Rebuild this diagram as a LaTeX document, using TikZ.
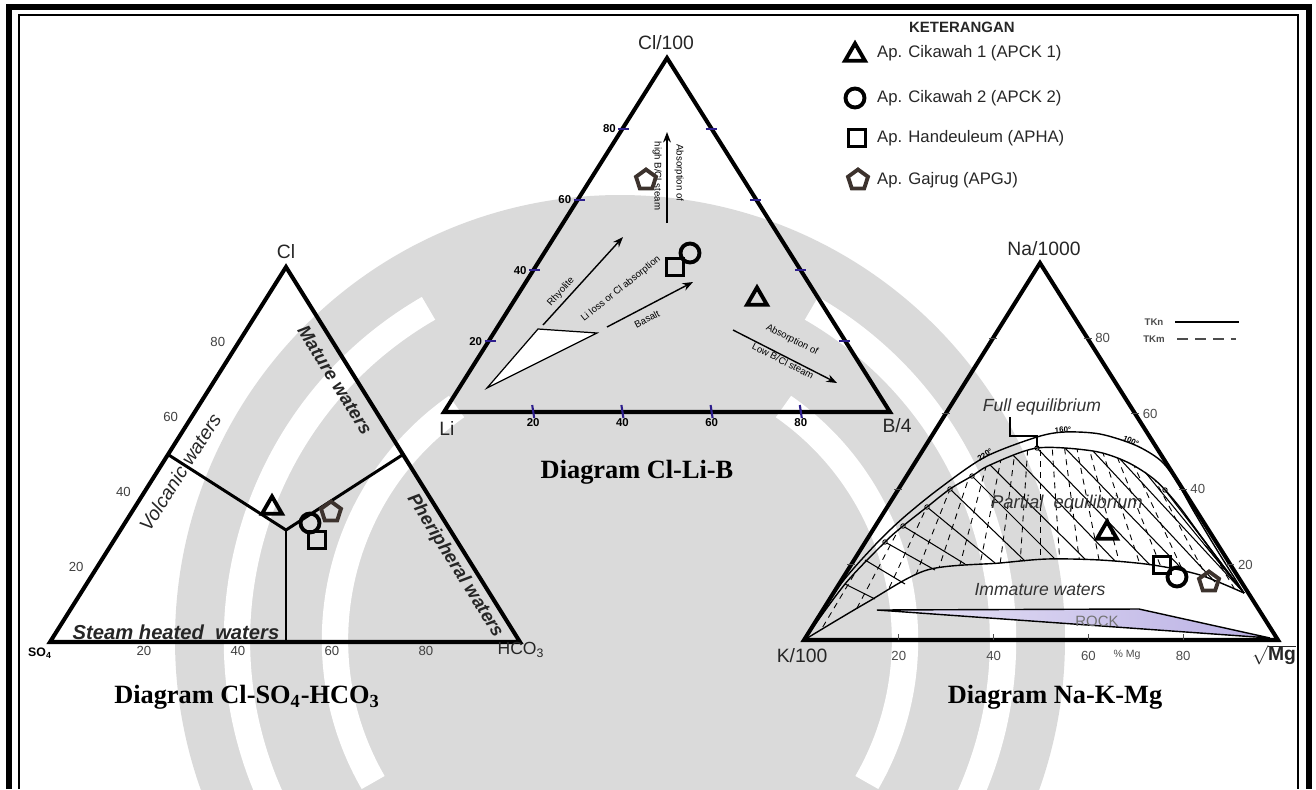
\documentclass[tikz,border=0pt]{standalone}
\usepackage{fontspec}
\setmainfont{Liberation Sans}
\newfontfamily\capfont{Liberation Serif}
\usetikzlibrary{arrows.meta,calc,positioning,shapes.geometric}

\definecolor{wmgray}{RGB}{218,218,218}
\definecolor{tickblue}{RGB}{45,30,140}
\definecolor{rockfill}{RGB}{186,176,228}
\definecolor{markbrown}{RGB}{60,50,45}

\tikzset{
  side/.style={line width=2.3pt, line join=miter},
  zone/.style={line width=1.7pt},
  caption/.style={font=\capfont\bfseries\fontsize{15}{17}\selectfont},
  corner/.style={font=\fontsize{11}{12}\selectfont, text=black!85},
  ax1/.style={font=\fontsize{7.5}{8}\selectfont, text=black!75},
  ax2/.style={font=\bfseries\fontsize{6.5}{7}\selectfont},
  ax3/.style={font=\fontsize{7.5}{8}\selectfont, text=black!70},
  zonelbl/.style={font=\bfseries\itshape\fontsize{10.5}{12}\selectfont, text=black!85},
  eqlbl/.style={font=\itshape\fontsize{10}{12}\selectfont, text=black!80},
  tinylbl/.style={font=\fontsize{5.5}{6}\selectfont, inner sep=0.5pt},
  legendtxt/.style={anchor=west, font=\fontsize{9.5}{11}\selectfont, text=black!85},
  bluetick/.style={tickblue, line width=1.2pt},
  gtick/.style={black!70, line width=0.6pt},
  trend/.style={->, line width=0.8pt},
  eqline/.style={line width=0.8pt},
  tkn/.style={line width=0.6pt},
  tkm/.style={line width=0.5pt, dash pattern=on 0.12cm off 0.1cm},
  mk/.style={draw=black, line width=2.2pt, inner sep=0pt},
  mtri/.style={mk, regular polygon, regular polygon sides=3, minimum size=0.46cm},
  mcirc/.style={mk, circle, minimum size=0.38cm},
  msq/.style={mk, rectangle, minimum size=0.34cm},
  mpent/.style={mk, draw=markbrown, regular polygon, regular polygon sides=5, minimum size=0.42cm}
}

\begin{document}
\begin{tikzpicture}[x=0.02cm, y=-0.02cm, >={Stealth[length=6pt,width=4.5pt]}]
\useasboundingbox (0,0) rectangle (1316,789);

% watermark
\begin{scope}
  \clip (20,16) rectangle (1297,789);
  \fill[wmgray] (620,640) circle (445);
  \draw[white, line width=15pt] (620,640) ++(150:383) arc (150:240:383);
  \draw[white, line width=15pt] (620,640) ++(30:383) arc (30:-60:383);
  \draw[white, line width=15pt] (620,640) ++(150:285) arc (150:235:285);
  \draw[white, line width=15pt] (620,640) ++(30:285) arc (30:-55:285);
\end{scope}

% frame
\draw[line width=3.2pt] (9,789) -- (9,7) -- (1309,7) -- (1309,789);
\draw[line width=1pt] (19,789) -- (19,15) -- (1298,15) -- (1298,789);

% Cl-SO4-HCO3
\coordinate (clA) at (286,267);
\coordinate (soA) at (50,642);
\coordinate (hcA) at (520,642);
\draw[side] (clA) -- (soA) -- (hcA) -- cycle;
\coordinate (volJ) at ($(soA)!0.5!(clA)$);
\coordinate (perJ) at ($(hcA)!0.5!(clA)$);
\coordinate (midJ) at (286,530);
\coordinate (botJ) at (286,642);
\draw[zone] (volJ) -- (midJ) -- (perJ);
\draw[zone] (midJ) -- (botJ);
\node[corner] (lblCl) at (286,252) {Cl};
\node[font=\bfseries\fontsize{7}{8}\selectfont] (lblSO) at (40,653) {SO\textsubscript{4}};
\node[corner, font=\fontsize{10}{11}\selectfont] (lblHC) at (521,650) {HCO\textsubscript{3}};
\foreach \v in {20,40,60,80} {
  \node[ax1] (clT\v) at ($(soA)!\v/100!(clA)+(-21,0)$) {\v};
  \node[ax1] (soT\v) at ($(soA)!\v/100!(hcA)+(0,9)$) {\v};
}
\node[zonelbl, font=\itshape\fontsize{11}{12}\selectfont, rotate=57.5] (volc) at (180,472) {Volcanic waters};
\node[zonelbl, rotate=-58] (matur) at (335,380) {Mature waters};
\node[zonelbl, rotate=-58] (perip) at (455,566) {Pheripheral waters};
\node[zonelbl, font=\bfseries\itshape\fontsize{11.5}{12}\selectfont] (steam) at (176,632) {Steam heated\ \ waters};
\node[mtri] (t1Apck1) at (272,508) {};
\node[mcirc] (t1Apck2) at (310,523) {};
\node[mpent] (t1Apgj) at (331,512) {};
\node[msq] (t1Apha) at (317,540) {};
\node[caption] (capA) at (247,697) {Diagram Cl-SO\textsubscript{4}-HCO\textsubscript{3}};

% Cl-Li-B
\coordinate (clB) at (667,58);
\coordinate (liB) at (444,412);
\coordinate (bB) at (890,412);
\draw[side] (clB) -- (liB) -- (bB) -- cycle;
\foreach \v in {20,40,60,80} {
  \draw[bluetick] ($(liB)!\v/100!(clB)+(-4,0)$) -- ++(11,0);
  \draw[bluetick] ($(bB)!\v/100!(clB)+(-6,0)$) -- ++(11,0);
  \draw[bluetick] ($(liB)!\v/100!(bB)+(-1,-7)$) -- ++(2,13);
  \node[ax2] (liT\v) at ($(liB)!\v/100!(clB)+(-13,0)$) {\v};
  \node[ax2] (bT\v) at ($(liB)!\v/100!(bB)+(0,11)$) {\v};
}
\node[corner] (lblCl100) at (666,43) {Cl/100};
\node[corner] (lblLi) at (447,428) {Li};
\node[corner] (lblB4) at (897,426) {B/4};
\draw[line width=0.7pt, fill=white] (487,388) -- (538,329) -- (597,333) -- cycle;
\coordinate (rhyS) at (543,325);
\coordinate (rhyE) at (623,237);
\draw[trend] (rhyS) -- (rhyE);
\node[tinylbl, rotate=47.7] (rhyL) at (561,292) {Rhyolite};
\node[tinylbl, rotate=38.7] (liLoss) at (621,289) {Li loss or Cl absorption};
\coordinate (basS) at (607,327);
\coordinate (basE) at (693,282);
\draw[trend] (basS) -- (basE);
\node[tinylbl, rotate=27.6] (basL) at (647,319) {Basalt};
\coordinate (lowS) at (733,330);
\coordinate (lowE) at (837,383);
\draw[trend] (lowS) -- (lowE);
\node[tinylbl, rotate=-27] (lowL1) at (792,340) {Absorption of};
\node[tinylbl, rotate=-27] (lowL2) at (783,361) {Low B/Cl steam};
\coordinate (hiS) at (667,223);
\coordinate (hiE) at (667,132);
\draw[trend] (hiS) -- (hiE);
\node[tinylbl, rotate=-90] (hiL1) at (679,173) {Absorption of};
\node[tinylbl, rotate=-90] (hiL2) at (657,176) {high B/Cl steam};
\node[mpent] (t2Apgj) at (646,180) {};
\node[mcirc] (t2Apck2) at (690,253) {};
\node[msq] (t2Apha) at (675,267) {};
\node[mtri] (t2Apck1) at (757,299) {};
\node[caption] (capB) at (637,472) {Diagram Cl-Li-B};

% legend
\node[anchor=west, font=\bfseries\fontsize{8.5}{10}\selectfont, text=black!85] (ket) at (903,27) {KETERANGAN};
\node[mtri] (lgApck1) at (855,55) {};
\node[legendtxt] (lgApck1T) at (871,53) {Ap. Cikawah 1 (APCK 1)};
\node[mcirc] (lgApck2) at (855,98) {};
\node[legendtxt] (lgApck2T) at (871,98) {Ap. Cikawah 2 (APCK 2)};
\node[msq] (lgApha) at (857,138) {};
\node[legendtxt] (lgAphaT) at (871,138) {Ap. Handeuleum (APHA)};
\node[mpent] (lgApgj) at (858,180) {};
\node[legendtxt] (lgApgjT) at (871,180) {Ap. Gajrug (APGJ)};

% Na-K-Mg
\coordinate (naC) at (1040,263);
\coordinate (kC) at (804,640);
\coordinate (mgC) at (1278,640);
\begin{scope}
  \clip plot[smooth] coordinates {(804,640) (845,584) (885,542) (903,526) (927,507) (950,489) (972,476) (990,465) (1037,448) (1093,451) (1127,462) (1155,480) (1178,505) (1200,535) (1222,565) (1244,593)}
    -- plot[smooth] coordinates {(1244,593) (1200,575) (1153,565) (1100,560) (1047,559) (1000,563) (927,570) (866,603) (804,640)} -- cycle;
  \foreach \xb in {815,840,...,1265}
    \draw[tkm] (naC) -- (\xb,640);
\end{scope}
\foreach \sx/\sy/\ex/\ey in {845/584/875/599, 865/560/905/584, 885/542/935/570, 903/526/965/564,
    927/507/995/563, 950/489/1025/561, 972/476/1055/559, 990/465/1085/559, 1013/455/1115/561,
    1037/448/1150/565, 1065/448/1185/572, 1093/451/1215/582, 1120/459/1244/593, 1145/472/1244/593,
    1165/490/1244/593, 1185/515/1244/593, 1205/545/1244/593}
  \draw[tkn] (\sx,\sy) -- (\ex,\ey);
\foreach \sx/\sy in {885/542, 903/526, 927/507, 950/489, 972/476, 1037/448, 1165/490}
  \draw[line width=0.5pt, fill=white] (\sx,\sy) circle (2.2);
\draw[eqline] plot[smooth] coordinates {(804,640) (840,585) (875,545) (903,518) (940,488) (985,457) (1037,437) (1065,432) (1100,434) (1135,445) (1160,460) (1176,480) (1193,510) (1217,550) (1244,593)};
\draw[eqline] plot[smooth] coordinates {(804,640) (845,584) (885,542) (903,526) (927,507) (950,489) (972,476) (990,465) (1037,448) (1093,451) (1127,462) (1155,480) (1178,505) (1200,535) (1222,565) (1244,593)};
\draw[eqline] plot[smooth] coordinates {(804,640) (866,603) (927,570) (1000,563) (1047,559) (1100,560) (1153,565) (1200,575) (1244,593)};
\draw[line width=1.2pt] (1010,417) -- (1010,436) -- (1037,436) -- (1037,447);
\node[font=\bfseries\fontsize{4.5}{5}\selectfont, rotate=35] (deg220) at (985,455) {220°};
\node[font=\bfseries\fontsize{4.5}{5}\selectfont, rotate=3] (deg160) at (1063,430) {160°};
\node[font=\bfseries\fontsize{4.5}{5}\selectfont, rotate=-25] (deg100) at (1131,441) {100°};
\shadedraw[left color=rockfill!35, right color=rockfill, draw=black, line width=0.8pt] (877,610) -- (1139,609) -- (1270,638) -- cycle;
\node[font=\fontsize{8.5}{9}\selectfont, text=black!55] (rock) at (1097,621) {ROCK};
\draw[side] (naC) -- (kC) -- (mgC) -- cycle;
\foreach \v in {20,40,60,80} {
  \draw[gtick] ($(mgC)!\v/100!(naC)+(-4,0)$) -- ++(8,0);
  \draw[gtick] ($(kC)!\v/100!(naC)+(-4,0)$) -- ++(8,0);
  \draw[gtick] ($(kC)!\v/100!(mgC)$) -- ++(0,-6);
  \node[ax3] (mgT\v) at ($(mgC)!\v/100!(naC)+(15,0)$) {\v};
  \node[ax3] (kT\v) at ($(kC)!\v/100!(mgC)+(0,16)$) {\v};
}
\node[ax3, font=\fontsize{6}{7}\selectfont] (pctMg) at (1127,655) {\% Mg};
\node[corner] (lblNa) at (1044,249) {Na/1000};
\node[corner] (lblK) at (802,656) {K/100};
\node[corner, font=\bfseries\fontsize{11}{12}\selectfont] (lblMg) at (1274,655) {$\sqrt{\mbox{Mg}}$};
\node[eqlbl] (fullEq) at (1042,407) {Full equilibrium};
\node[eqlbl, font=\itshape\fontsize{10.5}{12}\selectfont] (partEq) at (1067,504) {Partial\ \ equilibrium};
\node[eqlbl] (immat) at (1040,590) {Immature waters};
\node[font=\bfseries\fontsize{5.5}{6}\selectfont, text=black!70] (tknL) at (1154,322) {TKn};
\draw[line width=1.6pt] (1175,322) -- (1239,322);
\node[font=\bfseries\fontsize{5.5}{6}\selectfont, text=black!70] (tkmL) at (1154,339) {TKm};
\draw[line width=0.6pt, black!70, dash pattern=on 0.22cm off 0.14cm] (1177,339) -- (1236,339);
\node[mtri] (t3Apck1) at (1107,533) {};
\node[msq] (t3Apha) at (1162,565) {};
\node[mcirc] (t3Apck2) at (1177,577) {};
\node[mpent] (t3Apgj) at (1209,582) {};
\node[caption] (capC) at (1055,697) {Diagram Na-K-Mg};
\end{tikzpicture}
\end{document}
